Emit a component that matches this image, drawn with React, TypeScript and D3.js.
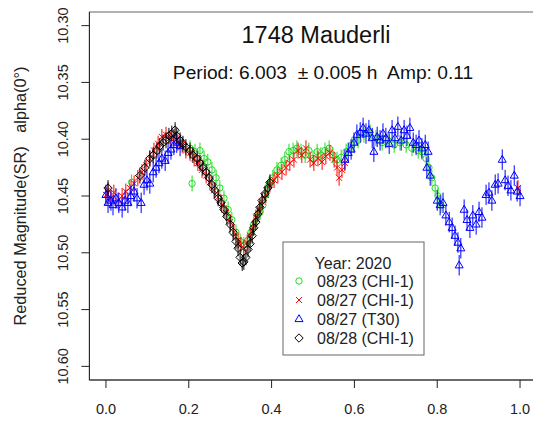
import React from "react";
import * as d3 from "d3";

// ---- data (phase, reduced magnitude) ----
const sessions = ["08/23 (CHI-1)", "08/27 (CHI-1)", "08/27 (T30)", "08/28 (CHI-1)"];
const sessionColors = ["#1fdc1f", "#ff0000", "#0000ff", "#000000"];
const sessionErr = [0.007, 0.007, 0.009, 0.007];
const xTicks = [0, 0.2, 0.4, 0.6, 0.8, 1.0];
const yTicks = [10.3, 10.35, 10.4, 10.45, 10.5, 10.55, 10.6];

const d0823: [number, number][] = [
  [0.062, 10.438], [0.203, 10.408], [0.208, 10.439], [0.215, 10.411], [0.227, 10.41], [0.237, 10.417],
  [0.246, 10.42], [0.256, 10.427], [0.266, 10.434], [0.275, 10.443], [0.285, 10.452], [0.295, 10.462],
  [0.304, 10.471], [0.314, 10.482], [0.324, 10.49], [0.333, 10.493], [0.343, 10.489], [0.35, 10.482],
  [0.357, 10.475], [0.365, 10.469], [0.372, 10.464], [0.379, 10.458], [0.386, 10.449], [0.394, 10.44],
  [0.403, 10.434], [0.413, 10.427], [0.423, 10.423], [0.432, 10.418], [0.442, 10.411], [0.452, 10.41],
  [0.461, 10.408], [0.471, 10.411], [0.481, 10.414], [0.49, 10.41], [0.5, 10.417], [0.51, 10.411],
  [0.519, 10.414], [0.529, 10.41], [0.539, 10.408], [0.548, 10.414], [0.558, 10.418], [0.568, 10.416],
  [0.58, 10.411], [0.594, 10.405], [0.609, 10.401], [0.623, 10.396], [0.638, 10.394], [0.652, 10.399],
  [0.667, 10.403], [0.681, 10.401], [0.696, 10.405], [0.71, 10.403], [0.725, 10.405], [0.739, 10.408],
  [0.754, 10.41], [0.763, 10.411], [0.773, 10.417], [0.78, 10.425], [0.787, 10.434], [0.795, 10.443],
  [0.802, 10.45], [0.809, 10.458],
];

const d0827a: [number, number][] = [
  [0.0, 10.449], [0.005, 10.445], [0.012, 10.452], [0.019, 10.447], [0.029, 10.454], [0.039, 10.45],
  [0.048, 10.446], [0.058, 10.443], [0.068, 10.439], [0.077, 10.434], [0.087, 10.429], [0.097, 10.423],
  [0.106, 10.417], [0.116, 10.41], [0.126, 10.404], [0.135, 10.398], [0.145, 10.396], [0.155, 10.399],
  [0.164, 10.398], [0.174, 10.403], [0.184, 10.405], [0.193, 10.41], [0.203, 10.412], [0.213, 10.417],
  [0.222, 10.421], [0.232, 10.427], [0.242, 10.432], [0.251, 10.438], [0.261, 10.445], [0.271, 10.451],
  [0.28, 10.458], [0.29, 10.465], [0.3, 10.473], [0.309, 10.482], [0.319, 10.489], [0.326, 10.493],
  [0.333, 10.496], [0.341, 10.491], [0.348, 10.485], [0.355, 10.478], [0.362, 10.469], [0.37, 10.462],
  [0.377, 10.455], [0.386, 10.449], [0.396, 10.44], [0.406, 10.436], [0.415, 10.432], [0.425, 10.429],
  [0.435, 10.425], [0.444, 10.421], [0.454, 10.418], [0.464, 10.41], [0.473, 10.414], [0.483, 10.408],
  [0.493, 10.418], [0.502, 10.421], [0.512, 10.417], [0.522, 10.42], [0.531, 10.415], [0.541, 10.412],
  [0.551, 10.418], [0.558, 10.425], [0.563, 10.434], [0.57, 10.427], [0.577, 10.421], [0.995, 10.443],
];

const d0827b: [number, number][] = [
  [0.0, 10.449], [0.005, 10.456], [0.012, 10.454], [0.017, 10.458], [0.024, 10.452], [0.031, 10.456],
  [0.039, 10.46], [0.046, 10.454], [0.053, 10.456], [0.06, 10.45], [0.068, 10.446], [0.075, 10.452],
  [0.085, 10.456], [0.092, 10.44], [0.099, 10.436], [0.106, 10.439], [0.114, 10.429], [0.121, 10.425],
  [0.128, 10.421], [0.135, 10.417], [0.143, 10.419], [0.15, 10.412], [0.157, 10.409], [0.164, 10.405],
  [0.171, 10.403], [0.179, 10.406],
  [0.577, 10.418], [0.585, 10.412], [0.592, 10.409], [0.599, 10.403], [0.606, 10.396], [0.614, 10.394],
  [0.621, 10.39], [0.628, 10.395], [0.635, 10.392], [0.643, 10.399], [0.647, 10.411], [0.655, 10.398],
  [0.662, 10.401], [0.669, 10.395], [0.676, 10.399], [0.684, 10.404], [0.691, 10.392], [0.698, 10.399],
  [0.705, 10.389], [0.713, 10.401], [0.72, 10.392], [0.727, 10.397], [0.734, 10.39], [0.742, 10.403],
  [0.749, 10.405], [0.756, 10.401], [0.763, 10.408], [0.771, 10.405], [0.775, 10.425], [0.778, 10.411],
  [0.783, 10.432], [0.8, 10.454], [0.807, 10.458], [0.814, 10.456], [0.821, 10.467], [0.829, 10.473],
  [0.836, 10.478], [0.843, 10.485], [0.85, 10.491], [0.853, 10.511], [0.857, 10.496], [0.865, 10.462],
  [0.872, 10.471], [0.879, 10.478], [0.886, 10.467], [0.894, 10.475], [0.901, 10.464], [0.908, 10.469],
  [0.918, 10.449], [0.925, 10.447], [0.932, 10.454], [0.94, 10.44], [0.947, 10.439], [0.957, 10.418],
  [0.964, 10.436], [0.971, 10.441], [0.978, 10.445], [0.986, 10.432], [0.993, 10.446], [1.0, 10.45],
];

const d0828: [number, number][] = [
  [0.005, 10.443], [0.082, 10.432], [0.094, 10.425], [0.106, 10.417], [0.114, 10.414], [0.123, 10.41],
  [0.13, 10.406], [0.138, 10.403], [0.145, 10.401], [0.152, 10.397], [0.159, 10.395], [0.167, 10.392],
  [0.171, 10.397], [0.179, 10.401], [0.186, 10.404], [0.193, 10.407], [0.203, 10.41], [0.21, 10.414],
  [0.22, 10.417], [0.227, 10.421], [0.234, 10.425], [0.242, 10.429], [0.249, 10.434], [0.256, 10.44],
  [0.263, 10.445], [0.271, 10.452], [0.278, 10.456], [0.285, 10.462], [0.292, 10.468], [0.3, 10.475],
  [0.307, 10.482], [0.314, 10.49], [0.319, 10.496], [0.324, 10.504], [0.329, 10.509], [0.333, 10.508],
  [0.338, 10.504], [0.343, 10.497], [0.348, 10.492], [0.353, 10.485], [0.357, 10.478], [0.362, 10.473],
  [0.367, 10.466], [0.372, 10.46], [0.377, 10.454], [0.384, 10.448], [0.391, 10.443], [0.396, 10.438],
];

const seriesData = [d0823, d0827a, d0827b, d0828];

const W = 533, H = 421;
const L = 89.4, R = 536.6, T = 12, B = 380;
const FONT = "'Liberation Sans', Arial, Helvetica, sans-serif";

function Marker({ kind, x, y, color }: { kind: number; x: number; y: number; color: string }) {
  if (kind === 0) return <circle cx={x} cy={y} r={3.2} fill="none" stroke={color} strokeWidth={1} />;
  if (kind === 1)
    return (
      <path d={`M${x - 3},${y - 3}L${x + 3},${y + 3}M${x - 3},${y + 3}L${x + 3},${y - 3}`} stroke={color} strokeWidth={1} fill="none" />
    );
  if (kind === 2)
    return <path d={`M${x},${y - 4.3}L${x + 4},${y + 2.6}L${x - 4},${y + 2.6}Z`} stroke={color} strokeWidth={1} fill="none" />;
  return <path d={`M${x},${y - 4.2}L${x + 4.2},${y}L${x},${y + 4.2}L${x - 4.2},${y}Z`} stroke={color} strokeWidth={1} fill="none" />;
}

export default function App() {
  const x = d3.scaleLinear().domain([-0.04, 1.04]).range([L, R]);
  const y = d3.scaleLinear().domain([10.3 - 0.012, 10.6 + 0.012]).range([T, B]);
  const pre = { whiteSpace: "pre" as const };

  return (
    <svg width={W} height={H} style={{ position: "absolute", left: 0, top: 0, background: "#fff" }} fontFamily={FONT}>
      <rect x={0} y={0} width={W} height={H} fill="#fff" />
      {/* frame */}
      <rect x={L} y={T} width={R - L} height={B - T} fill="none" stroke="#666" strokeWidth={1} />
      <line x1={L} x2={L} y1={T} y2={B} stroke="#222" />
      <line x1={L} x2={R} y1={B} y2={B} stroke="#222" />

      {/* x axis */}
      {xTicks.map((t) => (
        <g key={"x" + t}>
          <line x1={x(t)} x2={x(t)} y1={B} y2={B + 8} stroke="#222" />
          <text x={x(t)} y={414} fontSize={14.5} textAnchor="middle" fill="#222">
            {t.toFixed(1)}
          </text>
        </g>
      ))}
      {/* y axis */}
      {yTicks.map((t) => (
        <g key={"y" + t}>
          <line x1={L - 8} x2={L} y1={y(t)} y2={y(t)} stroke="#222" />
          <text transform={`translate(68,${y(t)}) rotate(-90)`} fontSize={14.5} textAnchor="middle" fill="#222">
            {t.toFixed(2)}
          </text>
        </g>
      ))}
      <text transform={`translate(26,${(T + B) / 2}) rotate(-90)`} fontSize={16.3} textAnchor="middle" fill="#222" style={pre}>
        {"Reduced Magnitude(SR)   alpha(0°)"}
      </text>

      {/* titles */}
      <text x={316} y={43} fontSize={23.5} textAnchor="middle" fill="#111">
        1748 Mauderli
      </text>
      <text x={323} y={79} fontSize={19.2} textAnchor="middle" fill="#111" style={pre}>
        {"Period: 6.003  ± 0.005 h  Amp: 0.11"}
      </text>

      {/* data */}
      <g>
        {seriesData.map((s, si) => (
          <g key={"s" + si}>
            {s.map(([p, m], i) => (
              <g key={i}>
                <line
                  x1={x(p)}
                  x2={x(p)}
                  y1={y(m - sessionErr[si])}
                  y2={y(m + sessionErr[si])}
                  stroke={sessionColors[si]}
                  strokeWidth={1}
                />
                <Marker kind={si} x={x(p)} y={y(m)} color={sessionColors[si]} />
              </g>
            ))}
          </g>
        ))}
      </g>

      {/* legend */}
      <g>
        <rect x={283} y={242} width={141} height={113} fill="#fff" stroke="#666" strokeWidth={1} />
        <text x={353} y={268.5} fontSize={16} textAnchor="middle" fill="#222">
          Year: 2020
        </text>
        {sessions.map((s, i) => (
          <g key={s}>
            <Marker kind={i} x={299} y={281 + i * 19} color={sessionColors[i]} />
            <text x={317} y={281 + i * 19 + 5.6} fontSize={16} fill="#222">
              {s}
            </text>
          </g>
        ))}
      </g>
    </svg>
  );
}
